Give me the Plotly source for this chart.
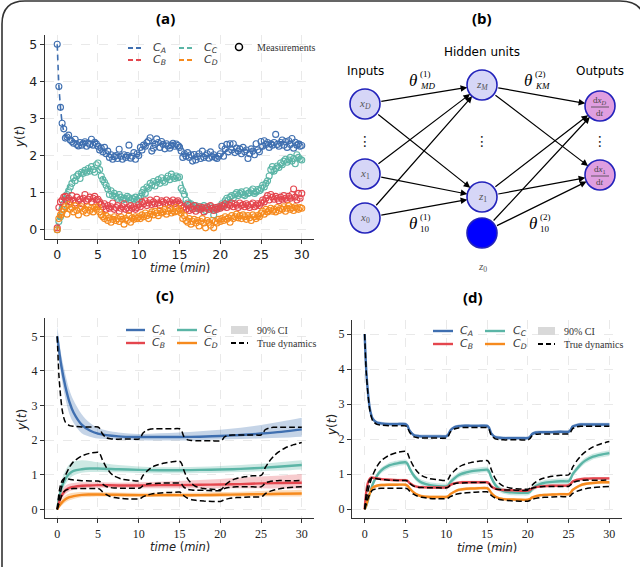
import numpy as np
import plotly.graph_objects as go

# ---------------- data ----------------
t_meas = np.round(np.arange(0, 30.0001, 0.2), 1)

meas_CA = [5.00, 3.86, 3.30, 2.87, 2.72,
           2.47, 2.50, 2.55, 2.42, 2.38, 2.33, 2.44, 2.30, 2.26, 2.35, 2.28, 2.33, 2.37, 2.25, 2.34, 2.30, 2.44, 2.28, 2.36, 2.32,
           2.25, 2.15, 2.20, 2.10, 2.22, 2.05, 2.12, 1.95, 2.02, 1.90, 1.97, 2.00, 1.92, 2.17, 1.98, 1.90, 2.02, 1.95, 2.00, 2.28, 1.93, 1.98, 2.08, 1.90, 2.05,
           2.00, 2.22, 2.15, 2.28, 2.25, 2.35, 2.40, 2.48, 2.12, 2.20, 2.30, 2.45, 2.35, 2.22, 2.38, 2.30, 2.18, 2.32, 2.26, 2.20, 2.28, 2.33, 2.25, 2.31, 2.27,
           2.22, 2.12, 1.95, 2.05, 1.98, 2.08, 1.95, 2.02, 1.85, 2.03, 1.88, 1.97, 2.05, 1.92, 2.12, 1.95, 2.00, 2.05, 1.93, 2.10, 1.97, 2.02, 1.95, 1.92, 1.98,
           2.05, 2.25, 1.98, 2.18, 2.30, 2.10, 2.32, 2.15, 2.32, 2.08, 2.20, 2.12, 2.18, 2.05, 2.22, 2.10, 2.15, 1.92, 2.05, 2.18, 2.12, 2.02, 2.32, 2.15, 2.10,
           2.38, 2.25, 2.40, 2.30, 2.35, 2.22, 2.32, 2.28, 2.35, 2.57, 2.30, 2.25, 2.35, 2.42, 2.28, 2.38, 2.22, 2.40, 2.30, 2.46, 2.20, 2.36, 2.28, 2.32, 2.25, 2.27]

meas_CC = [0.00, 0.22, 0.35, 0.55, 0.70,
           0.82, 0.95, 1.05, 1.15, 1.25, 1.40, 1.32, 1.45, 1.50, 1.38, 1.55, 1.52, 1.60, 1.55, 1.65, 1.58, 1.70, 1.62, 1.55, 1.75,
           1.80, 1.62, 1.45, 1.35, 1.28, 1.20, 1.10, 0.95, 1.05, 0.92, 0.98, 0.90, 0.85, 0.95, 0.88, 0.80, 0.85, 0.82, 0.90, 0.86, 0.80, 0.85, 0.83, 0.88, 0.80,
           0.85, 0.90, 1.00, 1.08, 0.98, 1.15, 1.12, 1.25, 1.20, 1.30, 1.18, 1.28, 1.35, 1.25, 1.40, 1.32, 1.28, 1.38, 1.45, 1.35, 1.50, 1.42, 1.38, 1.45, 1.40,
           1.42, 1.12, 1.05, 0.95, 0.80, 0.72, 0.65, 0.70, 0.62, 0.58, 0.65, 0.60, 0.55, 0.62, 0.58, 0.65, 0.52, 0.60, 0.55, 0.62, 0.58, 0.40, 0.55, 0.60, 0.57,
           0.62, 0.70, 0.65, 0.78, 0.85, 0.80, 0.88, 0.92, 0.85, 0.95, 1.00, 0.92, 0.98, 1.02, 0.95, 0.92, 1.05, 0.98, 1.00, 1.05, 1.10, 0.98, 1.02, 1.08, 1.05,
           1.12, 1.20, 1.15, 1.25, 1.32, 1.45, 1.62, 1.70, 1.58, 1.65, 1.72, 1.68, 1.80, 1.75, 1.85, 1.90, 1.82, 1.88, 1.95, 1.85, 1.92, 1.78, 2.02, 1.95, 1.90, 1.88]

meas_CB = [0.05, 0.60, 0.75, 0.80, 0.88,
           0.90, 0.78, 0.85, 0.75, 0.92, 0.80, 0.72, 0.88, 0.78, 0.82, 0.70, 0.85, 0.95, 0.78, 0.82, 0.88, 0.75, 0.85, 0.90, 0.80,
           0.82, 0.75, 0.68, 0.62, 0.70, 0.55, 0.65, 0.58, 0.62, 0.72, 0.55, 0.60, 0.65, 0.50, 0.58, 0.62, 0.70, 0.55, 0.60, 0.52, 0.65, 0.58, 0.62, 0.55, 0.60,
           0.68, 0.62, 0.75, 0.70, 0.78, 0.65, 0.72, 0.80, 0.68, 0.75, 0.70, 0.82, 0.72, 0.65, 0.78, 0.75, 0.70, 0.80, 0.68, 0.76, 0.72, 0.80, 0.70, 0.75, 0.78,
           0.72, 0.65, 0.58, 0.62, 0.55, 0.68, 0.52, 0.60, 0.55, 0.65, 0.50, 0.58, 0.62, 0.55, 0.60, 0.48, 0.58, 0.62, 0.55, 0.65, 0.58, 0.52, 0.60, 0.55, 0.62,
           0.58, 0.65, 0.62, 0.70, 0.60, 0.68, 0.65, 0.72, 0.62, 0.70, 0.66, 0.60, 0.72, 0.65, 0.68, 0.62, 0.70, 0.65, 0.60, 0.68, 0.72, 0.62, 0.66, 0.70, 0.65,
           0.72, 0.80, 0.75, 0.85, 0.92, 0.80, 0.95, 0.88, 0.82, 0.90, 0.85, 0.78, 0.88, 0.82, 0.92, 0.85, 0.80, 0.90, 0.85, 0.95, 1.10, 0.88, 0.80, 0.98, 0.85, 0.98]

meas_CD = [0.00, 0.30, 0.40, 0.48, 0.55,
           0.62, 0.42, 0.68, 0.55, 0.60, 0.48, 0.65, 0.52, 0.40, 0.58, 0.62, 0.50, 0.55, 0.45, 0.62, 0.52, 0.58, 0.48, 0.60, 0.55,
           0.62, 0.48, 0.40, 0.35, 0.30, 0.38, 0.25, 0.32, 0.20, 0.28, 0.35, 0.25, 0.30, 0.22, 0.35, 0.28, 0.15, 0.30, 0.25, 0.38, 0.20, 0.32, 0.28, 0.35, 0.30,
           0.35, 0.30, 0.40, 0.35, 0.45, 0.38, 0.30, 0.42, 0.48, 0.40, 0.50, 0.45, 0.38, 0.52, 0.45, 0.48, 0.55, 0.42, 0.50, 0.58, 0.45, 0.52, 0.48, 0.60, 0.50,
           0.55, 0.45, 0.30, 0.38, 0.25, 0.20, 0.30, 0.15, 0.22, 0.28, 0.18, 0.25, 0.10, 0.22, 0.30, 0.18, 0.05, 0.25, 0.20, 0.12, 0.25, 0.05, 0.22, 0.18, 0.28,
           0.22, 0.30, 0.25, 0.35, 0.28, 0.32, 0.20, 0.38, 0.30, 0.35, 0.42, 0.32, 0.38, 0.30, 0.40, 0.35, 0.28, 0.38, 0.32, 0.25, 0.40, 0.35, 0.30, 0.38, 0.35,
           0.45, 0.50, 0.42, 0.55, 0.48, 0.52, 0.58, 0.50, 0.55, 0.48, 0.60, 0.52, 0.58, 0.55, 0.62, 0.50, 0.58, 0.65, 0.55, 0.60, 0.52, 0.62, 0.58, 0.55, 0.60, 0.58]

t_true = [0, 0.2, 0.4, 0.6, 0.8, 1.0, 1.5, 2, 3, 4, 5, 5.25, 5.5, 6, 6.5, 7, 8, 9, 10, 10.25, 10.5, 11, 11.5, 12, 13, 14,
          15, 15.25, 15.5, 16, 16.5, 17, 18, 19, 20, 20.25, 20.5, 21, 21.5, 22, 23, 24, 25, 25.25, 25.5, 26, 26.5, 27, 28, 29, 30]
true_CA = [5.00, 3.90, 3.30, 2.88, 2.65, 2.52, 2.42, 2.40, 2.38, 2.38, 2.38, 2.33, 2.20, 2.07, 2.04, 2.03, 2.03, 2.03, 2.03, 2.08, 2.20, 2.29, 2.32, 2.33, 2.33, 2.33,
           2.33, 2.28, 2.12, 2.01, 1.99, 1.98, 1.98, 1.98, 1.98, 2.01, 2.09, 2.14, 2.15, 2.15, 2.15, 2.15, 2.15, 2.20, 2.30, 2.35, 2.37, 2.37, 2.37, 2.37, 2.37]
true_CB = [0.00, 0.45, 0.70, 0.83, 0.88, 0.89, 0.87, 0.85, 0.83, 0.82, 0.82, 0.80, 0.74, 0.66, 0.63, 0.62, 0.61, 0.61, 0.61, 0.63, 0.68, 0.73, 0.75, 0.75, 0.76, 0.76,
           0.76, 0.73, 0.65, 0.58, 0.56, 0.55, 0.55, 0.54, 0.54, 0.56, 0.60, 0.63, 0.64, 0.65, 0.65, 0.65, 0.65, 0.69, 0.76, 0.80, 0.82, 0.83, 0.83, 0.83, 0.84]
true_CC = [0.00, 0.25, 0.50, 0.70, 0.85, 0.98, 1.22, 1.38, 1.54, 1.62, 1.65, 1.60, 1.45, 1.22, 1.06, 0.96, 0.87, 0.84, 0.82, 0.86, 0.97, 1.10, 1.20, 1.26, 1.33, 1.37,
           1.39, 1.33, 1.15, 0.88, 0.74, 0.66, 0.60, 0.58, 0.57, 0.60, 0.68, 0.78, 0.85, 0.89, 0.94, 0.97, 0.98, 1.05, 1.20, 1.38, 1.52, 1.63, 1.78, 1.87, 1.93]
true_CD = [0.00, 0.15, 0.30, 0.42, 0.50, 0.55, 0.59, 0.60, 0.60, 0.60, 0.60, 0.58, 0.52, 0.43, 0.37, 0.34, 0.31, 0.30, 0.30, 0.32, 0.36, 0.41, 0.44, 0.46, 0.48, 0.49,
           0.50, 0.47, 0.40, 0.32, 0.28, 0.26, 0.24, 0.23, 0.23, 0.25, 0.28, 0.31, 0.33, 0.34, 0.35, 0.36, 0.36, 0.39, 0.45, 0.51, 0.55, 0.58, 0.62, 0.64, 0.65]

# panel (c) model prediction
t_pred_c = [0, 0.25, 0.5, 1, 1.5, 2, 3, 4, 5, 7.5, 10, 12.5, 15, 17.5, 20, 22.5, 25, 27.5, 30]
c_CA = [5.00, 4.55, 4.15, 3.55, 3.10, 2.80, 2.45, 2.28, 2.19, 2.11, 2.09, 2.09, 2.09, 2.10, 2.12, 2.15, 2.19, 2.24, 2.31]
c_CA_lo = [4.80, 4.30, 3.85, 3.20, 2.75, 2.50, 2.20, 2.10, 2.05, 2.02, 2.00, 1.99, 1.99, 2.00, 2.02, 2.03, 2.05, 2.07, 2.10]
c_CA_hi = [5.30, 4.85, 4.45, 3.90, 3.45, 3.15, 2.75, 2.50, 2.35, 2.22, 2.18, 2.20, 2.22, 2.26, 2.30, 2.36, 2.44, 2.54, 2.65]
c_CC = [0.00, 0.35, 0.60, 0.88, 1.03, 1.11, 1.16, 1.18, 1.18, 1.16, 1.14, 1.13, 1.13, 1.14, 1.15, 1.17, 1.20, 1.24, 1.28]
c_CC_lo = [0.00, 0.25, 0.45, 0.72, 0.88, 0.98, 1.06, 1.08, 1.08, 1.07, 1.05, 1.04, 1.04, 1.05, 1.06, 1.08, 1.10, 1.12, 1.15]
c_CC_hi = [0.00, 0.50, 0.80, 1.12, 1.30, 1.38, 1.42, 1.40, 1.36, 1.28, 1.24, 1.22, 1.22, 1.23, 1.25, 1.28, 1.32, 1.37, 1.42]
c_CB = [0.00, 0.22, 0.38, 0.55, 0.62, 0.65, 0.68, 0.69, 0.70, 0.69, 0.69, 0.70, 0.70, 0.71, 0.72, 0.73, 0.75, 0.76, 0.77]
c_CB_lo = [0.00, 0.15, 0.28, 0.44, 0.52, 0.56, 0.60, 0.62, 0.62, 0.62, 0.61, 0.61, 0.61, 0.61, 0.61, 0.61, 0.61, 0.60, 0.60]
c_CB_hi = [0.00, 0.30, 0.50, 0.68, 0.74, 0.76, 0.78, 0.78, 0.78, 0.77, 0.78, 0.80, 0.82, 0.85, 0.88, 0.92, 0.95, 0.98, 1.02]
c_CD = [0.00, 0.10, 0.18, 0.29, 0.35, 0.38, 0.42, 0.43, 0.43, 0.42, 0.41, 0.41, 0.41, 0.41, 0.42, 0.43, 0.44, 0.45, 0.46]
c_CD_lo = [0.00, 0.05, 0.10, 0.20, 0.26, 0.30, 0.35, 0.36, 0.37, 0.36, 0.36, 0.36, 0.36, 0.36, 0.36, 0.37, 0.37, 0.37, 0.37]
c_CD_hi = [0.00, 0.15, 0.27, 0.40, 0.46, 0.48, 0.50, 0.50, 0.50, 0.49, 0.48, 0.48, 0.48, 0.49, 0.50, 0.51, 0.53, 0.55, 0.57]

# panel (d) model prediction (on t_true grid)
d_CA = [5.00, 3.95, 3.35, 2.93, 2.70, 2.58, 2.47, 2.45, 2.43, 2.43, 2.43, 2.38, 2.25, 2.12, 2.09, 2.08, 2.08, 2.08, 2.08, 2.13, 2.25, 2.34, 2.37, 2.38, 2.38, 2.38,
        2.38, 2.33, 2.17, 2.06, 2.04, 2.03, 2.03, 2.03, 2.03, 2.06, 2.14, 2.19, 2.20, 2.20, 2.20, 2.21, 2.21, 2.26, 2.36, 2.40, 2.42, 2.42, 2.42, 2.42, 2.42]
d_CB = [0.00, 0.50, 0.75, 0.86, 0.90, 0.90, 0.88, 0.86, 0.84, 0.83, 0.83, 0.81, 0.75, 0.67, 0.64, 0.63, 0.62, 0.62, 0.62, 0.64, 0.69, 0.74, 0.76, 0.77, 0.77, 0.77,
        0.77, 0.74, 0.66, 0.59, 0.56, 0.55, 0.54, 0.53, 0.53, 0.55, 0.59, 0.63, 0.65, 0.66, 0.67, 0.67, 0.68, 0.72, 0.79, 0.84, 0.86, 0.87, 0.88, 0.88, 0.88]
d_CC = [0.00, 0.10, 0.25, 0.42, 0.58, 0.72, 0.95, 1.10, 1.25, 1.31, 1.34, 1.30, 1.17, 0.97, 0.84, 0.76, 0.69, 0.66, 0.65, 0.68, 0.77, 0.88, 0.97, 1.02, 1.08, 1.11,
        1.13, 1.08, 0.92, 0.70, 0.58, 0.52, 0.48, 0.47, 0.47, 0.50, 0.57, 0.66, 0.72, 0.75, 0.78, 0.80, 0.80, 0.87, 1.00, 1.15, 1.28, 1.38, 1.50, 1.56, 1.60]
d_CD = [0.00, 0.12, 0.28, 0.43, 0.55, 0.62, 0.67, 0.69, 0.70, 0.70, 0.70, 0.67, 0.60, 0.48, 0.41, 0.37, 0.35, 0.35, 0.35, 0.37, 0.43, 0.50, 0.55, 0.57, 0.59, 0.60,
        0.60, 0.56, 0.47, 0.36, 0.31, 0.29, 0.28, 0.27, 0.27, 0.29, 0.33, 0.37, 0.40, 0.41, 0.42, 0.43, 0.43, 0.47, 0.55, 0.63, 0.69, 0.72, 0.75, 0.77, 0.77]
d_halfwidth = {"A": 0.05, "B": 0.04, "C": 0.08, "D": 0.04}

x_ticks = [0, 5, 10, 15, 20, 25, 30]
y_ticks = [0, 1, 2, 3, 4, 5]

COL = {"A": "#3f6fb0", "B": "#e4464e", "C": "#5bb5a6", "D": "#f68a1e"}
FILL = {"A": "rgba(63,111,176,0.30)", "B": "rgba(228,70,78,0.28)",
        "C": "rgba(91,181,166,0.30)", "D": "rgba(246,138,30,0.30)"}

SANS = "DejaVu Sans"
SERIF = "Liberation Serif"

fig = go.Figure()

# ---------------- panel (a) ----------------
meas = {"A": meas_CA, "B": meas_CB, "C": meas_CC, "D": meas_CD}
truev = {"A": true_CA, "B": true_CB, "C": true_CC, "D": true_CD}
for k in ["A", "B", "C", "D"]:
    fig.add_trace(go.Scatter(x=t_true, y=truev[k], mode="lines", xaxis="x", yaxis="y",
                             line=dict(color=COL[k], width=1.6, dash="6px,4px", shape="spline", smoothing=0.6),
                             showlegend=False, hoverinfo="skip"))
for k in ["A", "C", "B", "D"]:
    fig.add_trace(go.Scatter(x=t_meas, y=meas[k], mode="markers", xaxis="x", yaxis="y",
                             marker=dict(symbol="circle-open", size=6, color=COL[k], line=dict(width=1.1, color=COL[k])),
                             showlegend=False, hoverinfo="skip"))

# ---------------- panel (c) ----------------
cpred = {"A": (c_CA, c_CA_lo, c_CA_hi), "B": (c_CB, c_CB_lo, c_CB_hi),
         "C": (c_CC, c_CC_lo, c_CC_hi), "D": (c_CD, c_CD_lo, c_CD_hi)}
for k in ["A", "C", "B", "D"]:
    m, lo, hi = cpred[k]
    fig.add_trace(go.Scatter(x=t_pred_c, y=hi, mode="lines", xaxis="x2", yaxis="y2",
                             line=dict(width=0, shape="spline"), showlegend=False, hoverinfo="skip"))
    fig.add_trace(go.Scatter(x=t_pred_c, y=lo, mode="lines", xaxis="x2", yaxis="y2", fill="tonexty",
                             fillcolor=FILL[k], line=dict(width=0, shape="spline"), showlegend=False, hoverinfo="skip"))
for k in ["A", "C", "B", "D"]:
    fig.add_trace(go.Scatter(x=t_pred_c, y=cpred[k][0], mode="lines", xaxis="x2", yaxis="y2",
                             line=dict(color=COL[k], width=2.4, shape="spline"), showlegend=False, hoverinfo="skip"))
for k in ["A", "B", "C", "D"]:
    fig.add_trace(go.Scatter(x=t_true, y=truev[k], mode="lines", xaxis="x2", yaxis="y2",
                             line=dict(color="black", width=1.5, dash="6px,3px", shape="spline", smoothing=0.6),
                             showlegend=False, hoverinfo="skip"))

# ---------------- panel (d) ----------------
dpred = {"A": d_CA, "B": d_CB, "C": d_CC, "D": d_CD}
for k in ["A", "C", "B", "D"]:
    m = np.array(dpred[k])
    hw = d_halfwidth[k]
    fig.add_trace(go.Scatter(x=t_true, y=m + hw, mode="lines", xaxis="x3", yaxis="y3",
                             line=dict(width=0, shape="spline", smoothing=0.6), showlegend=False, hoverinfo="skip"))
    fig.add_trace(go.Scatter(x=t_true, y=np.maximum(m - hw, 0), mode="lines", xaxis="x3", yaxis="y3", fill="tonexty",
                             fillcolor=FILL[k], line=dict(width=0, shape="spline", smoothing=0.6), showlegend=False, hoverinfo="skip"))
for k in ["A", "C", "B", "D"]:
    fig.add_trace(go.Scatter(x=t_true, y=dpred[k], mode="lines", xaxis="x3", yaxis="y3",
                             line=dict(color=COL[k], width=2.4, shape="spline", smoothing=0.6), showlegend=False, hoverinfo="skip"))
for k in ["A", "B", "C", "D"]:
    fig.add_trace(go.Scatter(x=t_true, y=truev[k], mode="lines", xaxis="x3", yaxis="y3",
                             line=dict(color="black", width=1.5, dash="6px,3px", shape="spline", smoothing=0.6),
                             showlegend=False, hoverinfo="skip"))

# ---------------- panel (b): network diagram (pixel overlay axis) ----------------
nodes = {
    "xD": (365, 104), "x1": (365, 174), "x0": (365, 218),
    "zM": (482, 85), "z1": (482, 197), "z0": (482, 233),
    "dD": (600, 106), "d1": (600, 175),
}
edges = [("xD", "zM"), ("xD", "z1"), ("x1", "zM"), ("x1", "z1"), ("x0", "zM"), ("x0", "z1"),
         ("zM", "dD"), ("zM", "d1"), ("z1", "dD"), ("z1", "d1"), ("z0", "dD"), ("z0", "d1")]
node_fill = {"xD": "#d6d6f7", "x1": "#d6d6f7", "x0": "#d6d6f7", "zM": "#d6d6f7", "z1": "#d6d6f7",
             "z0": "#0000ff", "dD": "#e09ee0", "d1": "#e09ee0"}

for name, (nx, ny) in nodes.items():
    fig.add_trace(go.Scatter(x=[nx], y=[ny], mode="markers", xaxis="x4", yaxis="y4",
                             marker=dict(size=30, color=node_fill[name], line=dict(color="#2222bb", width=1.6)),
                             showlegend=False, hoverinfo="skip"))

ann = []
shapes = []

for a, b in edges:
    ax_, ay_ = nodes[a]
    bx, by = nodes[b]
    ann.append(dict(x=bx, y=by, ax=ax_, ay=ay_, xref="x4", yref="y4", axref="x4", ayref="y4",
                    text="", showarrow=True, arrowhead=2, arrowsize=1.1, arrowwidth=1.2,
                    arrowcolor="black", standoff=15, startstandoff=15))

def txt(x, y, text, size=12, family=SANS, color="black", **kw):
    d = dict(x=x, y=y, xref="x4", yref="y4", text=text, showarrow=False,
             font=dict(size=size, family=family, color=color), xanchor="center", yanchor="middle")
    d.update(kw)
    ann.append(d)

node_labels = {"xD": "<i>x</i><sub><i>D</i></sub>", "x1": "<i>x</i><sub>1</sub>", "x0": "<i>x</i><sub>0</sub>",
               "zM": "<i>z</i><sub><i>M</i></sub>", "z1": "<i>z</i><sub>1</sub>"}
for n, lab in node_labels.items():
    txt(nodes[n][0], nodes[n][1], lab, size=11, family=SERIF, color="#555555")
for n, sub in [("dD", "<i>D</i>"), ("d1", "1")]:
    nx, ny = nodes[n]
    txt(nx, ny - 6, "d<i>x</i><sub>" + sub + "</sub>", size=9, family=SERIF, color="#444444")
    txt(nx, ny + 7, "d<i>t</i>", size=9, family=SERIF, color="#444444")
    shapes.append(dict(type="line", xref="x4", yref="y4", x0=nx - 9, x1=nx + 9, y0=ny + 1, y1=ny + 1,
                       line=dict(color="#444444", width=0.8)))
txt(482, 267, "<i>z</i><sub>0</sub>", size=11, family=SERIF, color="#555555")
for xx in [365, 482, 600]:
    txt(xx, 141, "⋮", size=14, family=SANS, color="#222222")
txt(365, 71, "Inputs", size=12)
txt(482, 52, "Hidden units", size=12)
txt(600, 71, "Outputs", size=12)

thetas = [(413, 80, "(1)", "<i>MD</i>"), (528, 80, "(2)", "<i>KM</i>"),
          (413, 223, "(1)", "10"), (533, 223, "(2)", "10")]
for tx, ty, sup, sub in thetas:
    txt(tx, ty, "<i>θ</i>", size=17, family=SERIF)
    txt(tx + 5, ty - 6, sup, size=9, family=SERIF, xanchor="left")
    txt(tx + 5, ty + 6, sub, size=9, family=SERIF, xanchor="left")

# ---------------- titles ----------------
for lx, ly, s in [(165, 18, "(a)"), (482, 18, "(b)"), (165, 295, "(c)"), (473, 297, "(d)")]:
    txt(lx, ly, "<b>" + s + "</b>", size=15, family="Open Sans")

# axis titles
for cx, cy in [(180, 268), (180, 547), (487, 548)]:
    txt(cx, cy, "<i>time</i> (<i>min</i>)", size=11.5, family=SANS, color="#222222")
for cx, cy in [(20, 137), (22, 420), (332, 425)]:
    txt(cx, cy, "<i>y</i>(<i>t</i>)", size=12, family=SANS, color="#222222", textangle=-90)

# ---------------- legends ----------------
def leg_line(x0, x1, y, color, dash="solid", width=2.4):
    shapes.append(dict(type="line", xref="x4", yref="y4", x0=x0, x1=x1, y0=y, y1=y,
                       line=dict(color=color, width=width, dash=dash)))

def ctext(k):
    return "<i>C</i><sub><i>" + k + "</i></sub>"

# (a)
leg_line(128, 143, 48, COL["A"], dash="5px,3px", width=2)
leg_line(128, 143, 60, COL["B"], dash="5px,3px", width=2)
leg_line(179, 195, 48, COL["C"], dash="5px,3px", width=2)
leg_line(179, 195, 60, COL["D"], dash="5px,3px", width=2)
txt(151, 48, ctext("A"), size=11, color="#333333", xanchor="left")
txt(151, 60, ctext("B"), size=11, color="#333333", xanchor="left")
txt(202, 48, ctext("C"), size=11, color="#333333", xanchor="left")
txt(202, 60, ctext("D"), size=11, color="#333333", xanchor="left")
fig.add_trace(go.Scatter(x=[239], y=[47], mode="markers", xaxis="x4", yaxis="y4",
                         marker=dict(symbol="circle-open", size=7, color="black", line=dict(width=1.5, color="black")),
                         showlegend=False, hoverinfo="skip"))
txt(255, 47, "Measurements", size=10, family=SERIF, color="#333333", xanchor="left")

# (c) and (d)
for (xa, xb, xt, xc0, xc1, xct, xp0, xp1, xpt, y1, y2) in [
        (126, 145, 150, 177, 197, 202, 231, 248, 255, 330, 343),
        (433, 453, 458, 485, 505, 511, 538, 555, 562, 331, 344)]:
    leg_line(xa, xb, y1, COL["A"])
    leg_line(xa, xb, y2, COL["B"])
    leg_line(xc0, xc1, y1, COL["C"])
    leg_line(xc0, xc1, y2, COL["D"])
    txt(xt, y1, ctext("A"), size=11, color="#333333", xanchor="left")
    txt(xt, y2, ctext("B"), size=11, color="#333333", xanchor="left")
    txt(xct, y1, ctext("C"), size=11, color="#333333", xanchor="left")
    txt(xct, y2, ctext("D"), size=11, color="#333333", xanchor="left")
    shapes.append(dict(type="rect", xref="x4", yref="y4", x0=xp0, x1=xp1, y0=y1 - 4, y1=y1 + 4,
                       fillcolor="#d9d9d9", line=dict(width=0)))
    leg_line(xp0, xp1, y2, "black", dash="5px,3px", width=1.8)
    txt(xpt, y1, "90% CI", size=10, family=SERIF, color="#333333", xanchor="left")
    txt(xpt, y2, "True dynamics", size=10, family=SERIF, color="#333333", xanchor="left")

# outer rounded frame
shapes.append(dict(type="path", xref="x4", yref="y4",
                   path="M 2,580 L 2,24 Q 2,1 25,1 L 620,1 Q 645,1 645,25 L 645,580",
                   line=dict(color="#333333", width=1.6)))

# ---------------- axes ----------------
def axis_common(tickfont_family, size):
    return dict(showline=True, linecolor="#333333", linewidth=1.2, ticks="outside", ticklen=4,
                tickcolor="#333333", tickwidth=1, showgrid=True, gridcolor="#e3e3e3", gridwidth=0.8,
                griddash="dash", zeroline=False, tickfont=dict(family=tickfont_family, size=size, color="#222222"),
                mirror=False, fixedrange=True)

W, H = 640, 567
def dom_x(a, b):
    return [a / W, b / W]
def dom_y(top, bottom):
    return [1 - bottom / H, 1 - top / H]

fig.update_layout(
    width=W, height=H, margin=dict(l=0, r=0, t=0, b=0),
    paper_bgcolor="white", plot_bgcolor="rgba(0,0,0,0)", showlegend=False,
    xaxis=dict(domain=dom_x(45, 314), range=[-1.5, 31.5], tickvals=x_ticks, anchor="y", **axis_common(SANS, 12.5)),
    yaxis=dict(domain=dom_y(35, 239), range=[-0.25, 5.25], tickvals=y_ticks, anchor="x", **axis_common(SANS, 12.5)),
    xaxis2=dict(domain=dom_x(45, 314), range=[-1.5, 31.5], tickvals=x_ticks, anchor="y2", **axis_common(SERIF, 12)),
    yaxis2=dict(domain=dom_y(318, 518), range=[-0.25, 5.53], tickvals=y_ticks, anchor="x2", **axis_common(SERIF, 12)),
    xaxis3=dict(domain=dom_x(352, 622), range=[-1.55, 31.55], tickvals=x_ticks, anchor="y3", **axis_common(SERIF, 12)),
    yaxis3=dict(domain=dom_y(320, 518), range=[-0.25, 5.4], tickvals=y_ticks, anchor="x3", **axis_common(SERIF, 12)),
    xaxis4=dict(domain=[0, 1], range=[0, W], visible=False, anchor="y4", fixedrange=True),
    yaxis4=dict(domain=[0, 1], range=[H, 0], visible=False, anchor="x4", fixedrange=True),
    annotations=ann, shapes=shapes,
)

fig.write_html("out.html", config={"displayModeBar": False, "staticPlot": True},
               post_script="document.body.style.margin='0';document.body.style.padding='0';"
                           "document.body.style.overflow='hidden';")
